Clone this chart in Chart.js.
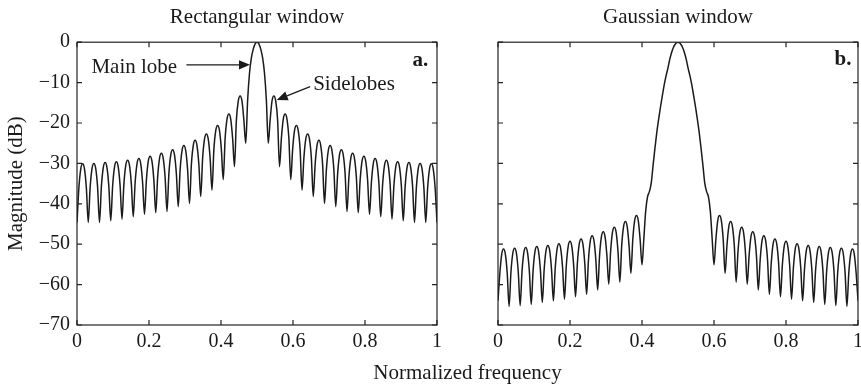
<!DOCTYPE html>
<html>
<head>
<meta charset="utf-8">
<script src="https://cdn.jsdelivr.net/npm/chart.js@4.4.1/dist/chart.umd.min.js"></script>
<style>
  html, body { margin: 0; background: #fff; }
  #fig { position: relative; width: 861px; height: 384px; }
  #fig canvas { position: absolute; left: 0; top: 0; }
  #xlabel {
    position: absolute; left: 77px; width: 781px; top: 360px;
    font-family: 'Liberation Serif', 'Times New Roman', serif;
    font-size: 21px; line-height: 24px; text-align: center; color: #1a1a1a;
  }
</style>
</head>
<body>
<div id="fig">
  <canvas id="rectChart" width="861" height="384"></canvas>
  <canvas id="gaussChart" width="861" height="384"></canvas>
  <div id="xlabel">Normalized frequency</div>
</div>
<script>
// sampled spectra, dB, on a uniform frequency grid from 0 to 1
const RECT_STEP = 1 / 192;
const GAUSS_STEP = 1 / 195;

const rectDb = [
  -44.6, -36.1, -31.4, -30.1, -31.4, -36.1,
  -44.6, -36.0, -31.3, -30.0, -31.3, -36.0,
  -44.6, -35.8, -31.1, -29.8, -31.1, -35.8,
  -44.2, -35.6, -30.9, -29.6, -30.9, -35.6,
  -43.8, -35.2, -30.5, -29.2, -30.5, -35.2,
  -43.2, -34.8, -30.1, -28.8, -30.1, -34.8,
  -42.6, -34.2, -29.5, -28.2, -29.5, -34.2,
  -42.2, -33.5, -28.8, -27.5, -28.8, -33.5,
  -41.9, -32.6, -27.9, -26.6, -27.9, -32.6,
  -40.7, -31.6, -26.9, -25.6, -26.9, -31.6,
  -39.9, -30.3, -25.6, -24.3, -25.6, -30.3,
  -38.2, -28.7, -24.0, -22.7, -24.0, -28.7,
  -36.6, -26.6, -21.9, -20.6, -21.9, -26.6,
  -34.0, -23.8, -19.1, -17.8, -19.1, -23.8,
  -30.8, -19.3, -14.6, -13.3, -14.6, -19.3,
  -25.0, -14.4, -7.7, -3.9, -1.7, -0.4, 0, -0.4, -1.7, -3.9, -7.7, -14.4, -25.0,
  -19.3, -14.6, -13.3, -14.6, -19.3, -30.8,
  -23.8, -19.1, -17.8, -19.1, -23.8, -34.0,
  -26.6, -21.9, -20.6, -21.9, -26.6, -36.6,
  -28.7, -24.0, -22.7, -24.0, -28.7, -38.2,
  -30.3, -25.6, -24.3, -25.6, -30.3, -39.9,
  -31.6, -26.9, -25.6, -26.9, -31.6, -40.7,
  -32.6, -27.9, -26.6, -27.9, -32.6, -41.9,
  -33.5, -28.8, -27.5, -28.8, -33.5, -42.2,
  -34.2, -29.5, -28.2, -29.5, -34.2, -42.6,
  -34.8, -30.1, -28.8, -30.1, -34.8, -43.2,
  -35.2, -30.5, -29.2, -30.5, -35.2, -43.8,
  -35.6, -30.9, -29.6, -30.9, -35.6, -44.2,
  -35.8, -31.1, -29.8, -31.1, -35.8, -44.6,
  -36.0, -31.3, -30.0, -31.3, -36.0, -44.6,
  -36.1, -31.4, -30.1, -31.4, -36.1, -44.6
];

const gaussDb = [
  -64.0, -57.2, -52.5, -51.2, -52.5, -57.2,
  -65.4, -57.0, -52.3, -51.0, -52.3, -57.0,
  -65.2, -56.8, -52.1, -50.8, -52.1, -56.8,
  -64.9, -56.6, -51.9, -50.6, -51.9, -56.6,
  -64.4, -56.3, -51.6, -50.3, -51.6, -56.3,
  -64.0, -55.9, -51.2, -49.9, -51.2, -55.9,
  -63.6, -55.3, -50.6, -49.3, -50.6, -55.3,
  -63.0, -54.7, -50.0, -48.7, -50.0, -54.7,
  -62.4, -53.9, -49.2, -47.9, -49.2, -53.9,
  -61.3, -52.9, -48.2, -46.9, -48.2, -52.9,
  -59.9, -51.8, -47.1, -45.8, -47.1, -51.8,
  -59.4, -50.4, -45.7, -44.4, -45.7, -50.4,
  -57.2, -48.9, -44.2, -42.9, -44.2, -48.9,
  -55.1, -48.6, -41.8, -38.3, -37.0, -34.9, -30.5, -26.3, -22.4, -19.1,
  -16.1, -13.3, -10.6, -8.4, -6.5, -4.3, -2.6, -1.3, -0.5, -0.05,
  -0.05, -0.5, -1.3, -2.6, -4.3, -6.5, -8.4, -10.6, -13.3, -16.1,
  -19.1, -22.4, -26.3, -30.5, -34.9, -37.0, -38.3, -41.8, -48.6, -55.1,
  -48.9, -44.2, -42.9, -44.2, -48.9, -57.2,
  -50.4, -45.7, -44.4, -45.7, -50.4, -59.4,
  -51.8, -47.1, -45.8, -47.1, -51.8, -59.9,
  -52.9, -48.2, -46.9, -48.2, -52.9, -61.3,
  -53.9, -49.2, -47.9, -49.2, -53.9, -62.4,
  -54.7, -50.0, -48.7, -50.0, -54.7, -63.0,
  -55.3, -50.6, -49.3, -50.6, -55.3, -63.6,
  -55.9, -51.2, -49.9, -51.2, -55.9, -64.0,
  -56.3, -51.6, -50.3, -51.6, -56.3, -64.4,
  -56.6, -51.9, -50.6, -51.9, -56.6, -64.9,
  -56.8, -52.1, -50.8, -52.1, -56.8, -65.2,
  -57.0, -52.3, -51.0, -52.3, -57.0, -65.4,
  -57.2, -52.5, -51.2, -52.5, -57.2, -64.0
];

const xTicks = [0, 0.2, 0.4, 0.6, 0.8, 1];
const yTicks = [0, -10, -20, -30, -40, -50, -60, -70];

// annotations, in data units
const rectLabels = [
  { text: 'Main lobe', x: 0.040, y: -7.6 },
  { text: 'Sidelobes', x: 0.656, y: -11.8 },
  { text: 'a.', x: 0.976, y: -5.9, align: 'right', bold: true }
];
const rectArrows = [
  { from: [0.304, -5.6], to: [0.4805, -5.6] },
  { from: [0.6475, -11.0], to: [0.5548, -14.3] }
];
const gaussLabels = [
  { text: 'b.', x: 0.982, y: -5.6, align: 'right', bold: true }
];

const INK = '#1a1a1a';
const FAMILY = "'Liberation Serif', 'Times New Roman', serif";
Chart.defaults.font.family = FAMILY;
Chart.defaults.color = INK;

const toPoints = (vals, step) => vals.map((v, i) => ({ x: i * step, y: v }));

// box round the plot with inward ticks on all four sides
const frameTicks = {
  id: 'frameTicks',
  afterDatasetsDraw(chart) {
    const { ctx, chartArea: a, scales: { x, y } } = chart;
    ctx.save();
    ctx.strokeStyle = '#222';
    ctx.lineWidth = 1.2;
    ctx.strokeRect(a.left, a.top, a.right - a.left, a.bottom - a.top);
    ctx.beginPath();
    xTicks.forEach(v => {
      const px = x.getPixelForValue(v);
      ctx.moveTo(px, a.bottom); ctx.lineTo(px, a.bottom - 5);
      ctx.moveTo(px, a.top); ctx.lineTo(px, a.top + 5);
    });
    yTicks.forEach(v => {
      const py = y.getPixelForValue(v);
      ctx.moveTo(a.left, py); ctx.lineTo(a.left + 5, py);
      ctx.moveTo(a.right, py); ctx.lineTo(a.right - 5, py);
    });
    ctx.stroke();
    ctx.restore();
  }
};

function drawArrow(ctx, x0, y0, x1, y1) {
  const ang = Math.atan2(y1 - y0, x1 - x0);
  const len = 11, half = 4.6;
  const bx = x1 - len * Math.cos(ang), by = y1 - len * Math.sin(ang);
  ctx.beginPath();
  ctx.moveTo(x0, y0); ctx.lineTo(bx, by);
  ctx.stroke();
  ctx.beginPath();
  ctx.moveTo(x1, y1);
  ctx.lineTo(bx + half * Math.sin(ang), by - half * Math.cos(ang));
  ctx.lineTo(bx - half * Math.sin(ang), by + half * Math.cos(ang));
  ctx.closePath();
  ctx.fill();
}

function notes(labels, arrows) {
  return {
    id: 'notes',
    afterDatasetsDraw(chart) {
      const { ctx, scales: { x, y } } = chart;
      ctx.save();
      ctx.fillStyle = INK;
      ctx.strokeStyle = INK;
      ctx.lineWidth = 1.2;
      ctx.textBaseline = 'alphabetic';
      labels.forEach(n => {
        ctx.font = (n.bold ? 'bold ' : '') + '21px ' + FAMILY;
        ctx.textAlign = n.align || 'left';
        ctx.fillText(n.text, x.getPixelForValue(n.x), y.getPixelForValue(n.y));
      });
      arrows.forEach(a => drawArrow(ctx,
        x.getPixelForValue(a.from[0]), y.getPixelForValue(a.from[1]),
        x.getPixelForValue(a.to[0]), y.getPixelForValue(a.to[1])));
      ctx.restore();
    }
  };
}

function panelOptions(title, pad, yWidth, yLabels) {
  return {
    responsive: false,
    animation: false,
    layout: { padding: pad },
    plugins: {
      legend: { display: false },
      tooltip: { enabled: false },
      title: {
        display: true, text: title, fullSize: false, color: INK,
        font: { size: 21, weight: 'normal' }, padding: { top: 5, bottom: 12 }
      }
    },
    scales: {
      x: {
        type: 'linear', min: 0, max: 1,
        border: { display: false },
        grid: { display: false, drawTicks: false },
        ticks: {
          stepSize: 0.2, padding: 5, maxRotation: 0, color: INK,
          font: { size: 20 },
          callback: v => String(+v.toFixed(1))
        },
        afterFit: s => { s.height = 59; s.paddingLeft = 0; s.paddingRight = 0; }
      },
      y: {
        min: -70, max: 0,
        border: { display: false },
        grid: { display: false, drawTicks: false },
        ticks: {
          display: yLabels, stepSize: 10, padding: 7, color: INK,
          font: { size: 20 },
          callback: v => (v === 0 ? '0' : '\u2212' + Math.abs(v))
        },
        title: {
          display: yLabels, text: 'Magnitude (dB)', color: INK,
          font: { size: 21 }, padding: { top: 4 }
        },
        afterFit: s => { s.width = yWidth; s.paddingTop = 0; s.paddingBottom = 0; }
      }
    }
  };
}

function lineSet(points) {
  return {
    data: points,
    borderColor: INK,
    borderWidth: 1.5,
    pointRadius: 0,
    fill: false,
    cubicInterpolationMode: 'monotone'
  };
}

new Chart(document.getElementById('rectChart'), {
  type: 'line',
  data: { datasets: [lineSet(toPoints(rectDb, RECT_STEP))] },
  options: panelOptions('Rectangular window', { left: 0, right: 424, top: 0, bottom: 0 }, 77, true),
  plugins: [frameTicks, notes(rectLabels, rectArrows)]
});

new Chart(document.getElementById('gaussChart'), {
  type: 'line',
  data: { datasets: [lineSet(toPoints(gaussDb, GAUSS_STEP))] },
  options: panelOptions('Gaussian window', { left: 488, right: 3, top: 0, bottom: 0 }, 10, false),
  plugins: [frameTicks, notes(gaussLabels, [])]
});
</script>
</body>
</html>
